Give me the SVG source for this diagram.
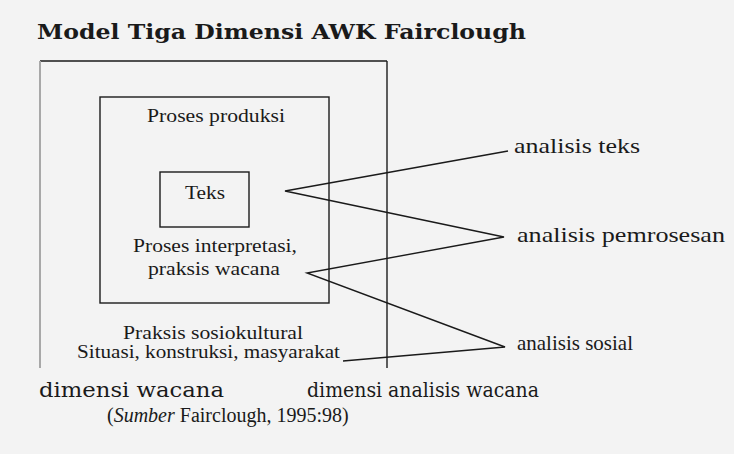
<svg xmlns="http://www.w3.org/2000/svg" width="734" height="454" viewBox="0 0 734 454">
<style>
.bg{fill:#f3f3f3}
.ln{stroke:#1a1a1a;stroke-width:1.4;fill:none}
.t{font-family:"Liberation Serif","Times New Roman",serif;fill:#1a1a1a}
.s{font-family:"DejaVu Serif","Liberation Serif",serif;fill:#1a1a1a}
</style>
<rect class="bg" x="0" y="0" width="734" height="454"/>
<text class="s" x="37" y="39" font-size="21" font-weight="bold" textLength="489" lengthAdjust="spacingAndGlyphs">Model Tiga Dimensi AWK Fairclough</text>
<g id="outer">
<line class="ln" x1="40" y1="61" x2="387" y2="61"/>
<line x1="40" y1="61" x2="40" y2="368" stroke="#a8a8a8" stroke-width="2"/>
<line class="ln" x1="387" y1="61" x2="387" y2="368"/>
<text class="t" x="123" y="339" font-size="19.5" textLength="180" lengthAdjust="spacingAndGlyphs">Praksis sosiokultural</text>
<text class="t" x="77" y="358" font-size="19.5" textLength="263" lengthAdjust="spacingAndGlyphs">Situasi, konstruksi, masyarakat</text>
</g>
<g id="inner">
<rect class="ln" x="100" y="97" width="229" height="206"/>
<text class="t" x="147" y="122" font-size="19.5" textLength="138" lengthAdjust="spacingAndGlyphs">Proses produksi</text>
<text class="t" x="133" y="252" font-size="19.5" textLength="164" lengthAdjust="spacingAndGlyphs">Proses interpretasi,</text>
<text class="t" x="148" y="275" font-size="19.5" textLength="132" lengthAdjust="spacingAndGlyphs">praksis wacana</text>
</g>
<g id="teks">
<rect class="ln" x="160" y="172" width="89" height="55"/>
<text class="t" x="185" y="199" font-size="19.5" textLength="40" lengthAdjust="spacingAndGlyphs">Teks</text>
</g>
<g id="connectors">
<polyline class="ln" points="508,151 285,191 504,237 307,273 505,347 343,361"/>
</g>
<g id="analisis-teks">
<text class="t" x="514" y="153" font-size="22" textLength="126" lengthAdjust="spacingAndGlyphs">analisis teks</text>
</g>
<g id="analisis-pemrosesan">
<text class="t" x="517" y="242" font-size="22" textLength="208" lengthAdjust="spacingAndGlyphs">analisis pemrosesan</text>
</g>
<g id="analisis-sosial">
<text class="t" x="517" y="350" font-size="22" textLength="116" lengthAdjust="spacingAndGlyphs">analisis sosial</text>
</g>
<text class="s" x="39" y="397" font-size="20" textLength="185" lengthAdjust="spacingAndGlyphs">dimensi wacana</text>
<text class="s" x="307" y="397" font-size="20" textLength="232" lengthAdjust="spacingAndGlyphs">dimensi analisis wacana</text>
<text class="t" x="107" y="422" font-size="20">(<tspan font-style="italic">Sumber</tspan> Fairclough, 1995:98)</text>
</svg>
